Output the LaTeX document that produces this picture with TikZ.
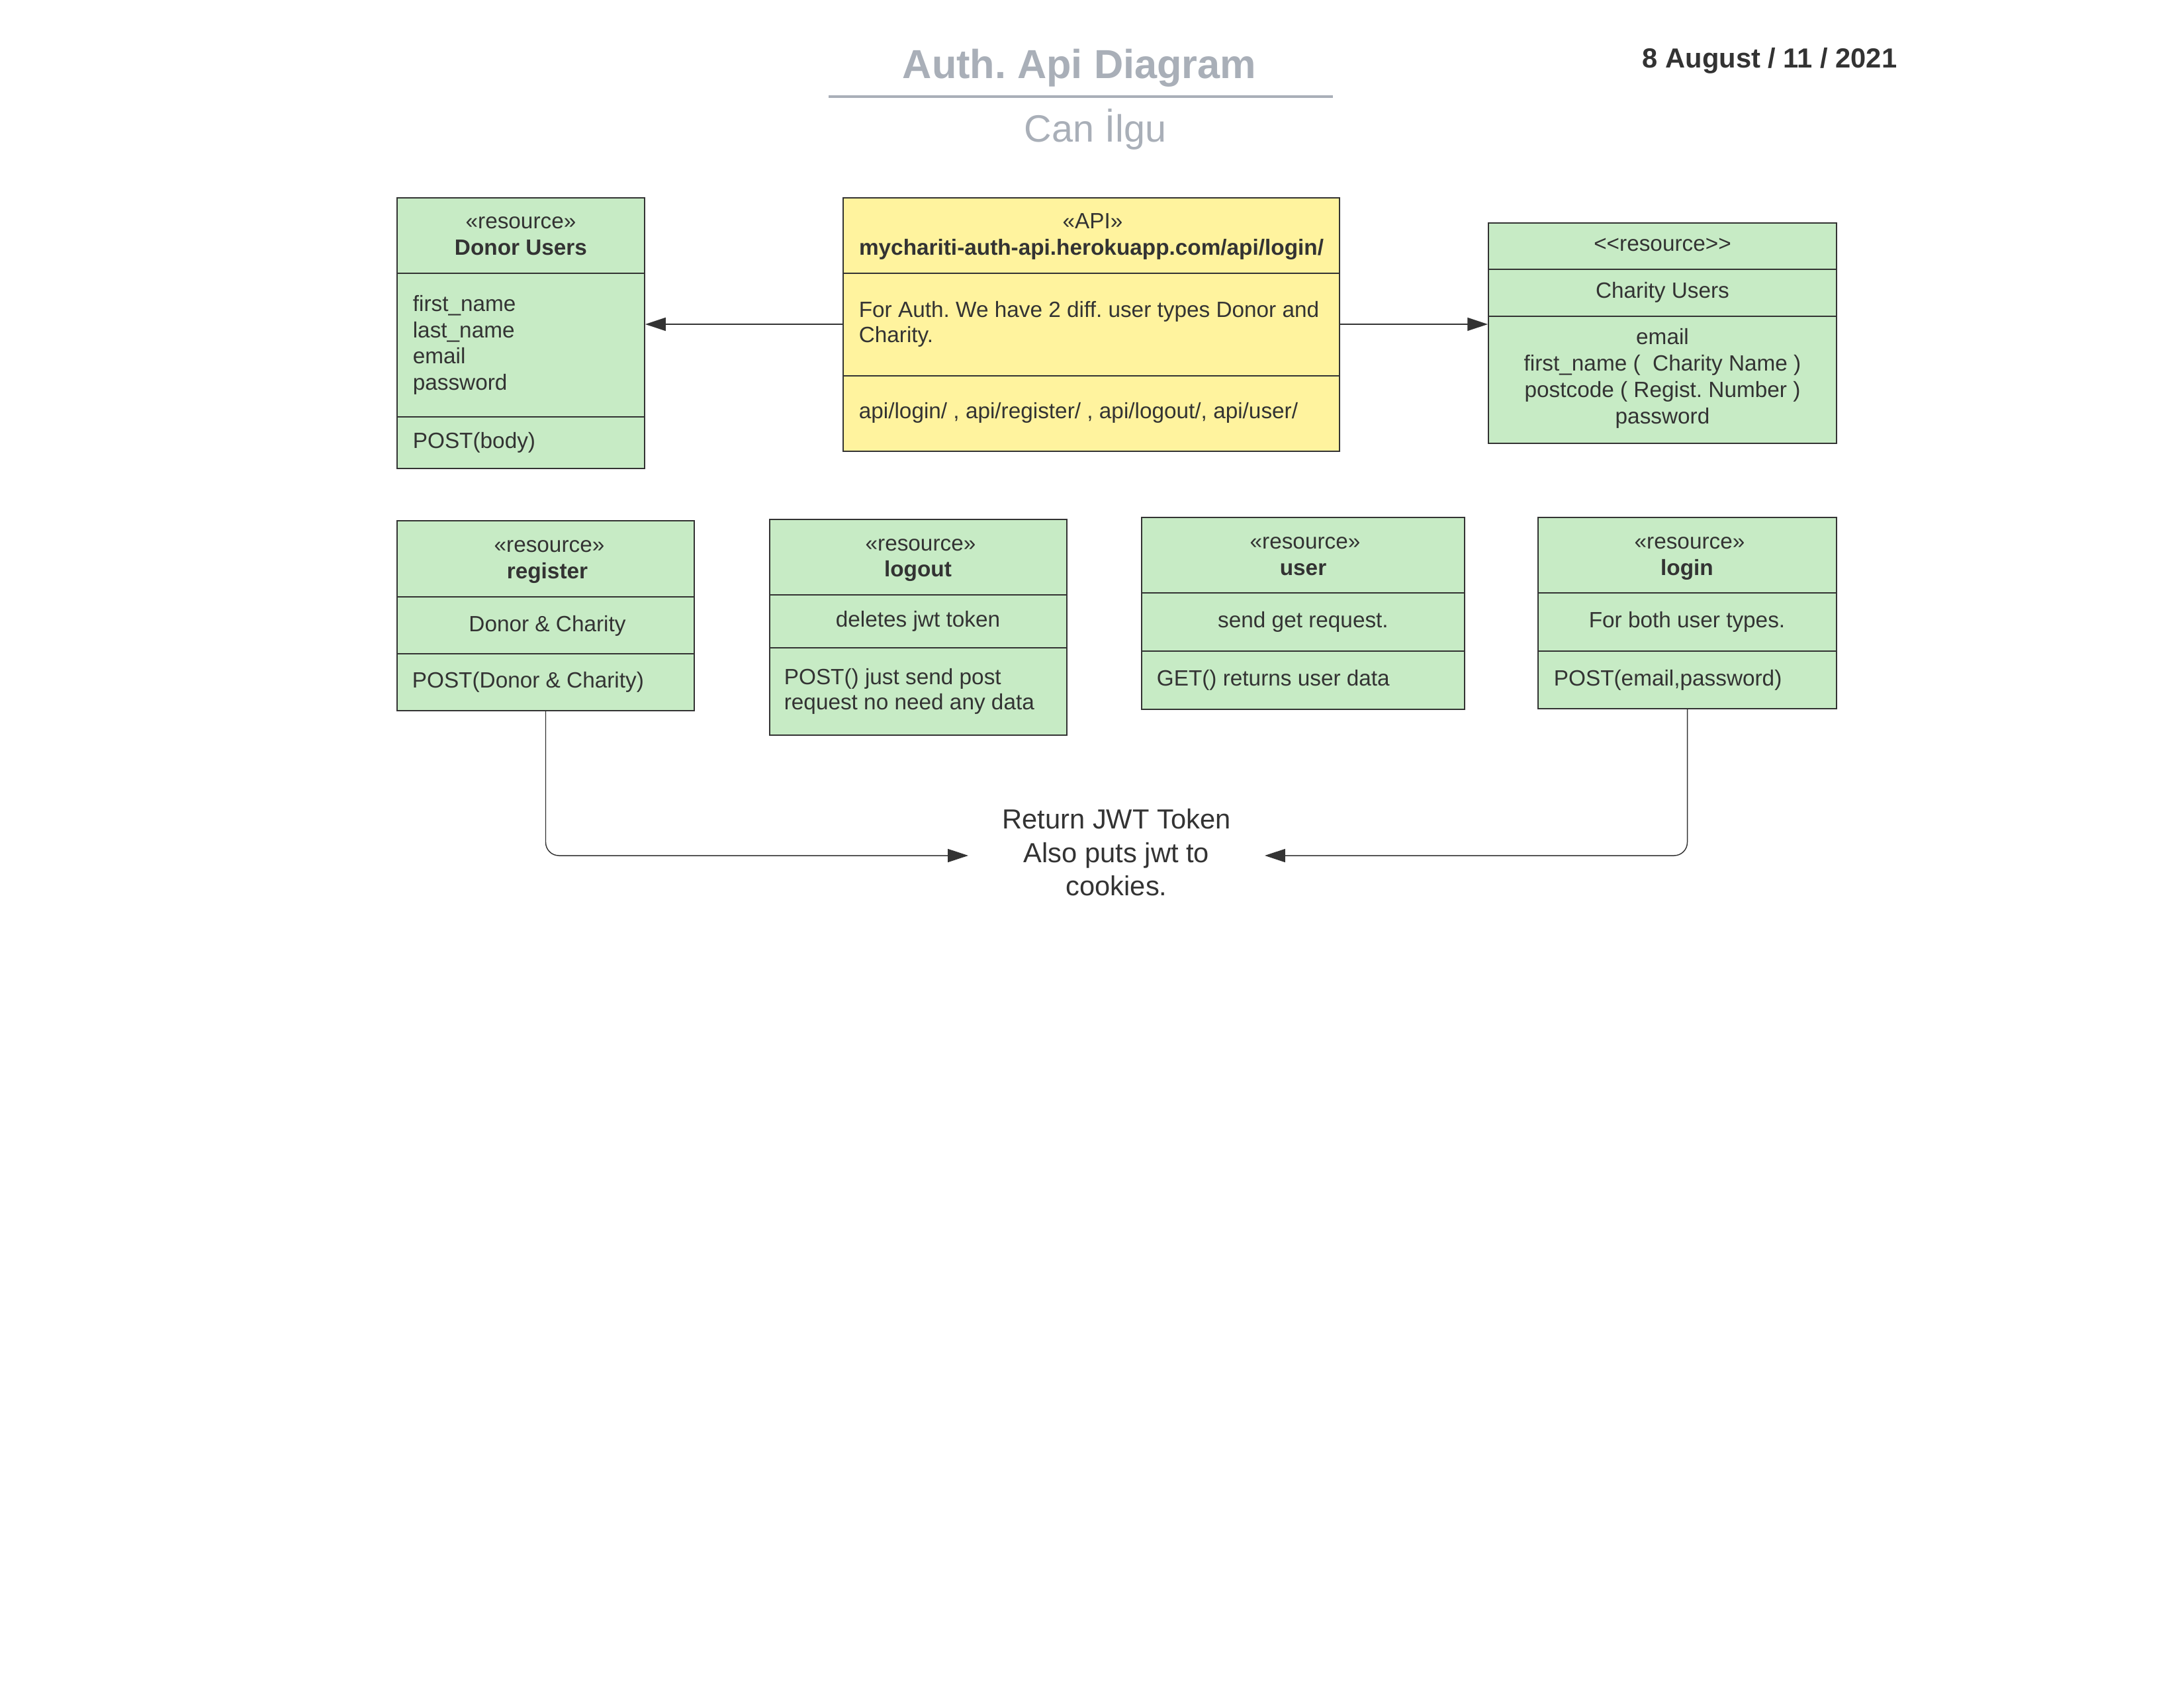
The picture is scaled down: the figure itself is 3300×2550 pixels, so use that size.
\documentclass[tikz,border=0pt]{standalone}
\usepackage{fontspec}
\setmainfont{Liberation Sans}
\usetikzlibrary{arrows.meta,fit}
\definecolor{tc}{HTML}{333333}
\definecolor{lgreen}{HTML}{C7EBC5}
\definecolor{lyellow}{HTML}{FFF39E}
\definecolor{tgray}{HTML}{A9AFB8}
\tikzset{
  ubox/.style={draw=tc, line width=0.45pt, inner sep=0pt, fill=lgreen},
  ybox/.style={ubox, fill=lyellow},
  divider/.style={draw=tc, line width=0.45pt},
  tc8/.style={inner sep=0pt, text=tc, font=\fontsize{8}{9.6}\selectfont, anchor=base},
  tl8/.style={tc8, anchor=base west},
  tb8/.style={tc8, font=\fontsize{8}{9.6}\selectfont\bfseries},
  conn/.style={draw=tc, line width=0.35pt, -{Triangle[length=7.4pt,width=4.8pt]}},
  rconn/.style={conn, rounded corners=4.8pt},
}
\frenchspacing
\begin{document}
\begin{tikzpicture}[x=0.24pt,y=-0.24pt]
\useasboundingbox (0,0) rectangle (3300,2550);
\fill[white] (0,0) rectangle (3300,2550);

% ---- title block
\node[inner sep=0pt, anchor=base, text=tgray, font=\fontsize{14.7}{17}\selectfont\bfseries] (title) at (1631,118) {Auth. Api Diagram};
\coordinate (tl1) at (1252,146);
\coordinate (tl2) at (2014,146);
\draw[tgray, line width=0.85pt] (tl1) -- (tl2);
\node[inner sep=0pt, anchor=base, text=tgray, font=\fontsize{13.8}{16}\selectfont] (author) at (1655,214) {Can İlgu};
\node[inner sep=0pt, anchor=base west, text=tc, font=\fontsize{10}{12}\selectfont\bfseries] (date) at (2481,102) {8 August / 11 / 2021};

% ---- Donor Users
\node[ubox, fit={(600,299) (974,708)}] (donor) {};
\draw[divider] (donor.west |- 0,413) -- (donor.east |- 0,413);
\draw[divider] (donor.west |- 0,630) -- (donor.east |- 0,630);
\node[tc8] (donorS) at (787,345) {«resource»};
\node[tb8] (donorN) at (787,385) {Donor Users};
\node[tl8] (donorA1) at (623,470) {first\_name};
\node[tl8] (donorA2) at (623,510) {last\_name};
\node[tl8] (donorA3) at (623,549) {email};
\node[tl8] (donorA4) at (623,589) {password};
\node[tl8] (donorM) at (623,677) {POST(body)};

% ---- API
\node[ybox, fit={(1274,299) (2024,682)}] (api) {};
\draw[divider] (api.west |- 0,413) -- (api.east |- 0,413);
\draw[divider] (api.west |- 0,568) -- (api.east |- 0,568);
\node[tc8] (apiS) at (1651,345) {«API»};
\node[tb8] (apiN) at (1649,385) {mychariti-auth-api.herokuapp.com/api/login/};
\node[tl8] (apiD1) at (1297,479) {For Auth. We have 2 diff. user types Donor and};
\node[tl8] (apiD2) at (1297,517) {Charity.};
\node[tl8] (apiM) at (1297,632) {api/login/ , api/register/ , api/logout/, api/user/};

% ---- Charity Users
\node[ubox, fit={(2249,337) (2775,670)}] (charity) {};
\draw[divider] (charity.west |- 0,407) -- (charity.east |- 0,407);
\draw[divider] (charity.west |- 0,478) -- (charity.east |- 0,478);
\node[tc8] (charS) at (2512,379) {<{}<resource>{}>};
\node[tc8] (charN) at (2512,450) {Charity Users};
\node[tc8] (charA1) at (2512,520) {email};
\node[tc8] (charA2) at (2512,560) {first\_name ( \ Charity Name )};
\node[tc8] (charA3) at (2512,600) {postcode ( Regist. Number )};
\node[tc8] (charA4) at (2512,640) {password};

% ---- register
\node[ubox, fit={(600,787) (1049,1074)}] (register) {};
\draw[divider] (register.west |- 0,902) -- (register.east |- 0,902);
\draw[divider] (register.west |- 0,988) -- (register.east |- 0,988);
\node[tc8] (regS) at (830,834) {«resource»};
\node[tb8] (regN) at (827,874) {register};
\node[tc8] (regA) at (827,954) {Donor \& Charity};
\node[tl8] (regM) at (622,1039) {POST(Donor \& Charity)};

% ---- logout
\node[ubox, fit={(1163,785) (1612,1111)}] (logout) {};
\draw[divider] (logout.west |- 0,899) -- (logout.east |- 0,899);
\draw[divider] (logout.west |- 0,979) -- (logout.east |- 0,979);
\node[tc8] (outS) at (1391,832) {«resource»};
\node[tb8] (outN) at (1387,871) {logout};
\node[tc8] (outA) at (1387,947) {deletes jwt token};
\node[tl8] (outM1) at (1184,1034) {POST() just send post};
\node[tl8] (outM2) at (1184,1072) {request no need any data};

% ---- user
\node[ubox, fit={(1725,782) (2213,1072)}] (user) {};
\draw[divider] (user.west |- 0,896) -- (user.east |- 0,896);
\draw[divider] (user.west |- 0,984) -- (user.east |- 0,984);
\node[tc8] (userS) at (1972,829) {«resource»};
\node[tb8] (userN) at (1969,869) {user};
\node[tc8] (userA) at (1969,948) {send get request.};
\node[tl8] (userM) at (1747,1036) {GET() returns user data};

% ---- login
\node[ubox, fit={(2324,782) (2775,1071)}] (login) {};
\draw[divider] (login.west |- 0,896) -- (login.east |- 0,896);
\draw[divider] (login.west |- 0,984) -- (login.east |- 0,984);
\node[tc8] (logS) at (2553,829) {«resource»};
\node[tb8] (logN) at (2549,869) {login};
\node[tc8] (logA) at (2549,948) {For both user types.};
\node[tl8] (logM) at (2347,1036) {POST(email,password)};

% ---- bottom label
\node[inner sep=0pt, anchor=base, text=tc, font=\fontsize{10}{12}\selectfont] (jwt1) at (1687,1252) {Return JWT Token};
\node[inner sep=0pt, anchor=base, text=tc, font=\fontsize{10}{12}\selectfont] (jwt2) at (1687,1303) {Also puts jwt to};
\node[inner sep=0pt, anchor=base, text=tc, font=\fontsize{10}{12}\selectfont] (jwt3) at (1687,1353) {cookies.};
\coordinate (jwtL) at (1463,1293);
\coordinate (jwtR) at (1911,1293);

% ---- connectors
\draw[conn] (api.west |- 0,490) -- (donor.east |- 0,490);
\draw[conn] (api.east |- 0,490) -- (charity.west |- 0,490);
\draw[rconn] (register.south) |- (jwtL);
\draw[rconn] (login.south) |- (jwtR);
\end{tikzpicture}
\end{document}
